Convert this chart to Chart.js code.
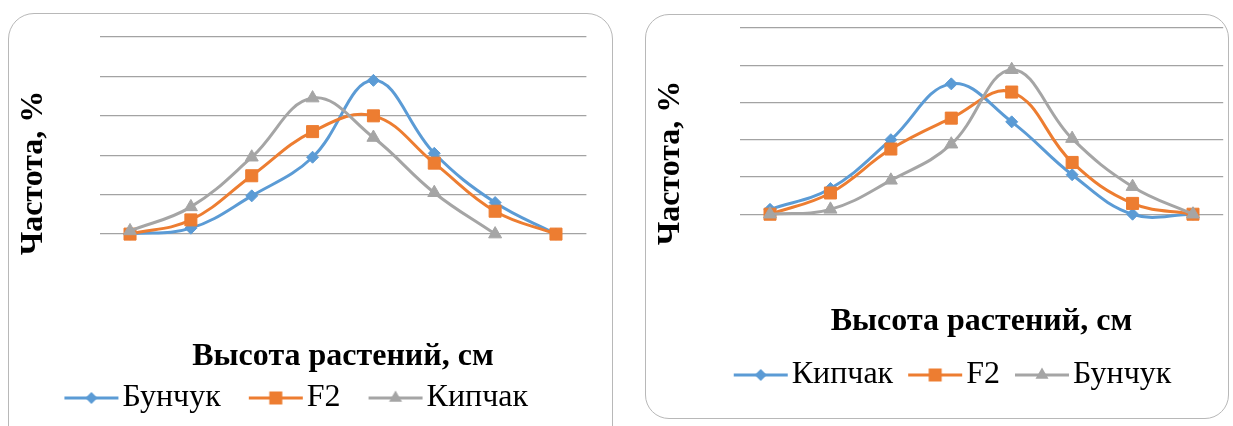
<!DOCTYPE html>
<html lang="ru">
<head>
<meta charset="utf-8">
<title>Частота по высоте растений</title>
<script src="https://cdn.jsdelivr.net/npm/chart.js@4.4.1/dist/chart.umd.min.js"></script>
<style>
  html, body { margin: 0; padding: 0; background: #fff; overflow: hidden; }
  body { width: 1233px; height: 426px; position: relative; }
  .panel { position: absolute; border: 1.5px solid #b8b8b8; background: #fff; box-sizing: border-box; }
  #panelA { left: 8px; top: 13px; width: 605px; height: 450px; border-radius: 26px; }
  #panelB { left: 645px; top: 14px; width: 584px; height: 405px; border-radius: 24px; }
  canvas { position: absolute; top: 0; }
  #chartA { left: 0; }
  #chartB { left: 620px; }
</style>
</head>
<body>
<div class="panel" id="panelA"></div>
<div class="panel" id="panelB"></div>
<canvas id="chartA" width="620" height="426"></canvas>
<canvas id="chartB" width="613" height="426"></canvas>
<script>
// Height classes (not labelled on the axis)
const heightClasses = ['1', '2', '3', '4', '5', '6', '7', '8'];

// Left panel: frequency, %
const bunchukLeft = [0, 0.15, 0.97, 1.95, 3.9, 2.05, 0.8, 0];
const f2Left      = [0, 0.36, 1.48, 2.6, 3.0, 1.8, 0.58, 0];
const kipchakLeft = [0.08, 0.69, 1.95, 3.45, 2.45, 1.05, 0, null];

// Right panel: frequency, %
const kipchakRight = [0.13, 0.69, 2.0, 3.5, 2.48, 1.06, 0, 0];
const f2Right      = [0, 0.57, 1.75, 2.58, 3.28, 1.39, 0.29, 0];
const bunchukRight = [0, 0.13, 0.91, 1.88, 3.88, 2.03, 0.74, 0];

const BLUE = '#5B9BD5', ORANGE = '#ED7D31', GRAY = '#A5A5A5';
const SERIF = "'Liberation Serif', 'Times New Roman', serif";

const styles = {
  diamond:  { color: BLUE,   pointStyle: 'rectRot',  radius: 6 },
  square:   { color: ORANGE, pointStyle: 'rect',     radius: 8.5 },
  triangle: { color: GRAY,   pointStyle: 'triangle', radius: 7.5 }
};

// Legend swatch: a short line with the series marker in the middle.
// The image is wider than the legend box so that the line starts at the box's left edge.
const SWATCH_LINE = 54, BOX_W = 42;
function makeSwatch(st) {
  const w = 70, h = 20;
  const c = document.createElement('canvas');
  c.width = w; c.height = h;
  const g = c.getContext('2d');
  const x0 = w / 2 - BOX_W / 2;
  const cx = x0 + SWATCH_LINE / 2, cy = h / 2;
  g.strokeStyle = st.color; g.lineWidth = 3;
  g.beginPath(); g.moveTo(x0, cy); g.lineTo(x0 + SWATCH_LINE, cy); g.stroke();
  g.fillStyle = st.color;
  g.beginPath();
  if (st.pointStyle === 'rectRot') {
    const r = 6;
    g.moveTo(cx, cy - r); g.lineTo(cx + r, cy); g.lineTo(cx, cy + r); g.lineTo(cx - r, cy);
  } else if (st.pointStyle === 'rect') {
    g.rect(cx - 6.5, cy - 6.5, 13, 13);
  } else {
    const r = 7.5;
    g.moveTo(cx, cy - r);
    g.lineTo(cx + r * 0.866, cy + r / 2);
    g.lineTo(cx - r * 0.866, cy + r / 2);
  }
  g.closePath(); g.fill();
  return c;
}

function dataset(label, data, st, idx) {
  return {
    label, data,
    borderColor: st.color, backgroundColor: st.color,
    pointStyle: st.pointStyle, pointRadius: st.radius,
    pointBackgroundColor: st.color, pointBorderColor: st.color, pointBorderWidth: 1,
    borderWidth: 3, tension: 0.4, fill: false,
    order: -idx,            // later series drawn on top
    swatch: makeSwatch(st)
  };
}

function buildChart(canvasId, series, geo) {
  const datasets = series.map((s, i) => dataset(s.label, s.data, s.style, i));
  return new Chart(document.getElementById(canvasId), {
    type: 'line',
    data: { labels: heightClasses, datasets },
    options: {
      responsive: false,
      animation: false,
      layout: { padding: geo.padding, autoPadding: false },
      scales: {
        x: {
          type: 'category', offset: true,
          grid: { display: false, drawTicks: false },
          border: { display: false },
          ticks: { display: false },
          title: {
            display: true, text: 'Высота растений, см', color: '#000',
            font: { family: SERIF, size: 32, weight: 'bold', lineHeight: 1.2 },
            padding: geo.xTitlePad
          }
        },
        y: {
          // the range runs a little below zero to leave room under the plotted band
          min: geo.yMin, max: 5,
          ticks: { display: false, stepSize: 1 },
          grid: {
            color: ctx => (ctx.tick && ctx.tick.value >= 0) ? '#a3a3a3' : 'rgba(0,0,0,0)',
            lineWidth: 1.3, drawTicks: false
          },
          border: { display: false },
          title: {
            display: true, text: 'Частота, %', color: '#000',
            font: { family: SERIF, size: 32, weight: 'bold', lineHeight: 1.2 },
            padding: geo.yTitlePad
          }
        }
      },
      plugins: {
        tooltip: { enabled: false },
        legend: {
          position: 'bottom',
          labels: {
            color: '#000',
            font: { family: SERIF, size: 32 },
            usePointStyle: true,
            pointStyleWidth: BOX_W,
            padding: geo.legendPad,
            generateLabels(chart) {
              const items = Chart.defaults.plugins.legend.labels.generateLabels(chart);
              items.sort((a, b) => a.datasetIndex - b.datasetIndex);
              items.forEach(it => { it.pointStyle = chart.data.datasets[it.datasetIndex].swatch; });
              return items;
            }
          }
        }
      }
    }
  });
}

buildChart('chartA', [
  { label: 'Бунчук', data: bunchukLeft, style: styles.diamond },
  { label: 'F2',     data: f2Left,      style: styles.square },
  { label: 'Кипчак', data: kipchakLeft, style: styles.triangle }
], {
  yMin: -1.9,
  padding: { left: 6, right: 33.6, top: 37, bottom: 2 },
  yTitlePad: { top: 8.8, bottom: 46.4 },
  xTitlePad: { top: 28.8, bottom: -22.2 },
  legendPad: 28
});

buildChart('chartB', [
  { label: 'Кипчак', data: kipchakRight, style: styles.diamond },
  { label: 'F2',     data: f2Right,      style: styles.square },
  { label: 'Бунчук', data: bunchukRight, style: styles.triangle }
], {
  yMin: -2.25,
  padding: { left: 61.8, right: 9.8, top: 28, bottom: 25 },
  yTitlePad: { top: -30, bottom: 49.6 },
  xTitlePad: { top: 4.8, bottom: 2.8 },
  legendPad: 15
});
</script>
</body>
</html>
